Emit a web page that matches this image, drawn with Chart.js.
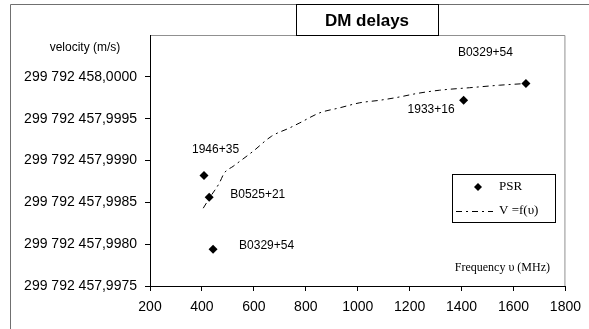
<!DOCTYPE html>
<html>
<head>
<meta charset="utf-8">
<script src="https://cdn.jsdelivr.net/npm/chart.js@4.4.0/dist/chart.umd.min.js"></script>
<style>
  body { margin: 0; background: #fff; }
  canvas { display: block; }
</style>
</head>
<body>
<canvas id="chart" width="589" height="329"></canvas>
<script>
// pulsars (frequency in MHz, velocity in m/s)
const psrNames = ['1946+35', 'B0525+21', 'B0329+54', '1933+16', 'B0329+54'];
const psrFreq = [408, 428, 443, 1408, 1648];
const psrVel = [299792457.99882, 299792457.99856, 299792457.99794, 299792457.99972, 299792457.99992];

// fitted curve V = f(v)
const fitFreq = [405, 431, 467, 486, 520, 597, 668, 738, 777, 854, 931, 1008, 1085, 1162, 1226, 1315, 1431, 1546, 1648];
const fitVel = [299792457.99843, 299792457.99856, 299792457.99873, 299792457.99885, 299792457.99893,
  299792457.99911, 299792457.99929, 299792457.99939, 299792457.99945, 299792457.99957,
  299792457.99963, 299792457.99969, 299792457.99972, 299792457.99976, 299792457.99980,
  299792457.99984, 299792457.99987, 299792457.99990, 299792457.99992];

const xTicks = [200, 400, 600, 800, 1000, 1200, 1400, 1600, 1800];
const yTicks = [299792457.9975, 299792457.998, 299792457.9985, 299792457.999, 299792457.9995, 299792458.0];

const SANS = "'Liberation Sans', Arial, sans-serif";
const SERIF = "'Liberation Serif', 'Times New Roman', serif";
const dashPattern = [6, 4, 2, 4];

function fmtVel(v) {
  let s = v.toFixed(4).split('.');
  let int = s[0].replace(/\B(?=(\d{3})+(?!\d))/g, ' ');
  return int + ',' + s[1];
}

// where each pulsar name sits relative to its point
const labelOffsets = [
  { dx: -12, dy: -26, align: 'left' },
  { dx: 21, dy: -3, align: 'left' },
  { dx: 26, dy: -3, align: 'left' },
  { dx: -9, dy: 9, align: 'right' },
  { dx: -13, dy: -31, align: 'right' }
];

const decor = {
  id: 'decor',
  beforeDraw(chart) {
    const ctx = chart.ctx;
    ctx.save();
    ctx.fillStyle = '#fff';
    ctx.fillRect(0, 0, chart.width, chart.height);
    // outer frame
    ctx.strokeStyle = '#707070';
    ctx.lineWidth = 1;
    ctx.beginPath();
    ctx.moveTo(10.5, chart.height);
    ctx.lineTo(10.5, 4.5);
    ctx.lineTo(chart.width, 4.5);
    ctx.stroke();
    // plot area border (top/right)
    const a = chart.chartArea;
    ctx.strokeStyle = '#909090';
    ctx.beginPath();
    ctx.moveTo(a.left, a.top + 0.5);
    ctx.lineTo(a.right - 0.5, a.top + 0.5);
    ctx.lineTo(a.right - 0.5, a.bottom);
    ctx.stroke();
    ctx.restore();
  },
  afterDraw(chart) {
    const ctx = chart.ctx;
    ctx.save();
    // title box
    ctx.fillStyle = '#fff';
    ctx.fillRect(296, 4, 142, 31);
    ctx.strokeStyle = '#000';
    ctx.lineWidth = 1;
    ctx.strokeRect(296.5, 4.5, 142, 31);
    ctx.fillStyle = '#000';
    ctx.font = 'bold 17px ' + SANS;
    ctx.textAlign = 'center';
    ctx.textBaseline = 'middle';
    ctx.fillText('DM delays', 367, 21);
    // y axis title
    ctx.font = '12px ' + SANS;
    ctx.fillText('velocity (m/s)', 85, 48);
    // x axis title
    ctx.font = '12px ' + SERIF;
    ctx.textAlign = 'right';
    ctx.fillText('Frequency \u03c5 (MHz)', 550, 268);
    // pulsar names
    const meta = chart.getDatasetMeta(0);
    ctx.font = '12px ' + SANS;
    meta.data.forEach((pt, i) => {
      const o = labelOffsets[i];
      ctx.textAlign = o.align;
      ctx.fillText(psrNames[i], pt.x + o.dx, pt.y + o.dy);
    });
    // legend
    const lx = 452, ly = 174, lw = 103, lh = 48;
    ctx.fillStyle = '#fff';
    ctx.fillRect(lx, ly, lw, lh);
    ctx.strokeStyle = '#000';
    ctx.strokeRect(lx + 0.5, ly + 0.5, lw, lh);
    ctx.fillStyle = '#000';
    ctx.beginPath();
    ctx.moveTo(478, 183);
    ctx.lineTo(482, 187);
    ctx.lineTo(478, 191);
    ctx.lineTo(474, 187);
    ctx.closePath();
    ctx.fill();
    ctx.setLineDash(dashPattern);
    ctx.beginPath();
    ctx.moveTo(456, 211.5);
    ctx.lineTo(493, 211.5);
    ctx.stroke();
    ctx.setLineDash([]);
    ctx.font = '13px ' + SERIF;
    ctx.textAlign = 'left';
    ctx.fillText('PSR', 499, 187);
    ctx.fillText('V =f(\u03c5)', 499, 211);
    ctx.restore();
  }
};

new Chart(document.getElementById('chart'), {
  type: 'scatter',
  data: {
    datasets: [
      {
        label: 'PSR',
        data: psrFreq.map((f, i) => ({ x: f, y: psrVel[i] })),
        pointStyle: 'rectRot',
        pointRadius: 4.5,
        pointHoverRadius: 4.5,
        backgroundColor: '#000',
        borderColor: '#000',
        borderWidth: 0
      },
      {
        label: 'V =f(\u03c5)',
        data: fitFreq.map((f, i) => ({ x: f, y: fitVel[i] })),
        showLine: true,
        pointRadius: 0,
        borderColor: '#000',
        borderWidth: 1,
        borderDash: dashPattern,
        cubicInterpolationMode: 'monotone'
      }
    ]
  },
  options: {
    responsive: false,
    animation: false,
    layout: { padding: { left: 0, top: 35, right: 23, bottom: 0 } },
    plugins: { legend: { display: false }, tooltip: { enabled: false } },
    scales: {
      x: {
        type: 'linear',
        min: 200,
        max: 1800,
        afterBuildTicks: s => { s.ticks = xTicks.map(v => ({ value: v })); },
        afterFit: s => { s.height = 43; },
        grid: { drawOnChartArea: false, drawTicks: true, tickLength: 5, color: '#000' },
        border: { color: '#000' },
        ticks: { color: '#000', padding: 8, font: { family: SANS, size: 14 }, maxRotation: 0, callback: v => String(v) }
      },
      y: {
        type: 'linear',
        min: 299792457.9975,
        max: 299792458.0005,
        afterBuildTicks: s => { s.ticks = yTicks.map(v => ({ value: v })); },
        afterFit: s => { s.width = 150; },
        grid: { drawOnChartArea: false, drawTicks: true, tickLength: 5, color: '#000' },
        border: { color: '#000' },
        ticks: { color: '#000', padding: 8, font: { family: SANS, size: 14 }, callback: v => fmtVel(v) }
      }
    }
  },
  plugins: [decor]
});
</script>
</body>
</html>
